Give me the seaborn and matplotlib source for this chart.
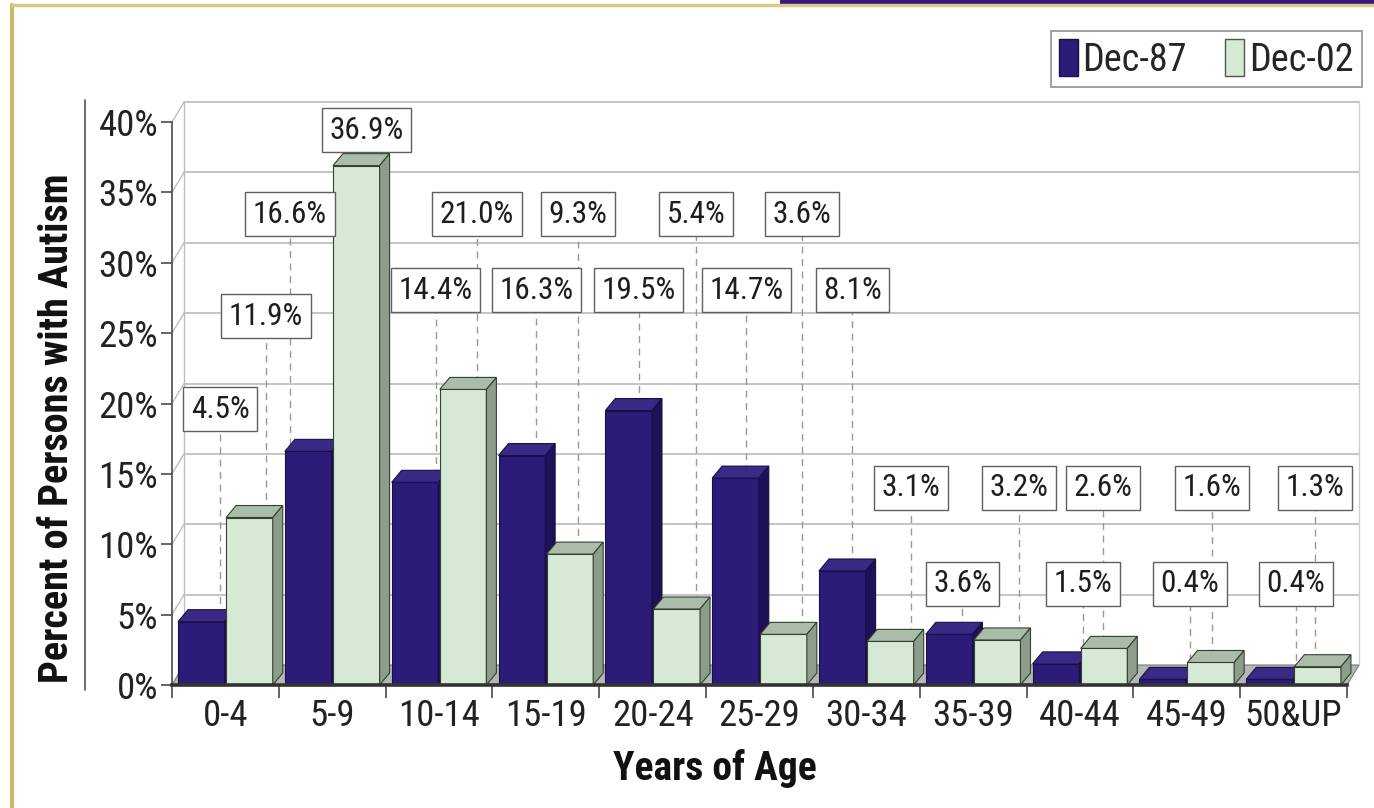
import numpy as np
import pandas as pd
import matplotlib
matplotlib.use("Agg")
import matplotlib.pyplot as plt
import seaborn as sns
from matplotlib import font_manager as fm
from matplotlib.patches import Polygon, Patch, Rectangle
from matplotlib.lines import Line2D

# ---------------- data ----------------
age_groups = ["0-4", "5-9", "10-14", "15-19", "20-24", "25-29",
              "30-34", "35-39", "40-44", "45-49", "50&UP"]
dec87 = [4.5, 16.6, 14.4, 16.3, 19.5, 14.7, 8.1, 3.6, 1.5, 0.4, 0.4]
dec02 = [11.9, 36.9, 21.0, 9.3, 5.4, 3.6, 3.1, 3.2, 2.6, 1.6, 1.3]
series_names = ["Dec-87", "Dec-02"]
y_ticks = [0, 5, 10, 15, 20, 25, 30, 35, 40]

# label placement (layout only)
lab87_dx = [-0.05, -0.395, -0.03, -0.09, -0.13, -0.125, -0.13, -0.10, 0.03, 0.03, 0.02]
lab02_dx = [0.38, 0.32, 0.356, 0.30, 0.406, 0.40, 0.42, 0.43, 0.217, 0.238, 0.20]
lab87_y = [19.6, 33.45, 28.05, 28.05, 28.05, 28.05, 28.05, 7.2, 7.2, 7.2, 7.2]
lab02_y = [26.2, 39.4, 33.45, 33.45, 33.45, 33.45, 14.0, 14.0, 14.0, 14.0, 14.0]

df = pd.DataFrame({
    "age": age_groups * 2,
    "value": dec87 + dec02,
    "series": [series_names[0]] * len(age_groups) + [series_names[1]] * len(age_groups),
})

# ---------------- font choice (condensed if available) ----------------
sns.set_style("white")
ttf = fm.fontManager.ttflist
names = {f.name for f in ttf}
family, stretch = None, "normal"
for c in ["Liberation Sans Narrow", "Roboto Condensed", "Open Sans Condensed",
          "Noto Sans Condensed", "DejaVu Sans Condensed"]:
    if c in names:
        family = c
        break
if family is None:
    def is_cond(f):
        s = f.stretch
        if isinstance(s, str):
            return "condensed" in s
        return s < 500
    for base in ["Noto Sans", "Open Sans", "DejaVu Sans", "Roboto", "Liberation Sans"]:
        if any(f.name == base and is_cond(f) for f in ttf):
            family, stretch = base, "condensed"
            break
if family is None:
    family = "Roboto" if "Roboto" in names else "DejaVu Sans"
plt.rcParams["font.family"] = [family, "DejaVu Sans"]
plt.rcParams["font.stretch"] = stretch

DARK = "#2D1B78"
DARK_TOP = "#3A2985"
DARK_SIDE = "#1E1157"
LIGHT = "#D6E9D5"
LIGHT_TOP = "#AABDA9"
LIGHT_SIDE = "#8C9E8B"

W, H = 1374, 808
fig = plt.figure(figsize=(W / 100, H / 100), dpi=100)
fig.patch.set_facecolor("white")
ax = fig.add_axes([172 / W, 123 / H, 1175 / W, 563 / H])
ax.patch.set_alpha(0)

sns.barplot(data=df, x="age", y="value", hue="series", order=age_groups,
            hue_order=series_names, palette=[DARK, LIGHT], width=0.9, gap=0.03,
            legend=False, ax=ax, saturation=1)
bars = sorted([p for p in ax.patches if isinstance(p, Rectangle)], key=lambda p: p.get_x())

ax.set_xlim(-0.5, 10.5)
ax.set_ylim(0, 40)

# depth offsets (data units)
bdx, bdy = 10 / 106.8, 12 / 14.075
wdx, wdy = 12 / 106.8, 20 / 14.075

# back wall grid
for yv in y_ticks:
    ax.plot([-0.5, -0.5 + wdx], [yv, yv + wdy], color="#BDBDBD", lw=1.0, zorder=1, clip_on=False)
    if yv > 0:
        ax.plot([-0.5 + wdx, 10.5 + wdx], [yv + wdy, yv + wdy], color="#C4C4C4", lw=1.4,
                zorder=1, clip_on=False)
ax.plot([-0.5 + wdx, -0.5 + wdx], [wdy, 40 + wdy], color="#BDBDBD", lw=1.0, zorder=1, clip_on=False)
ax.plot([10.5 + wdx, 10.5 + wdx], [wdy, 40 + wdy], color="#CFCFCF", lw=1.0, zorder=1, clip_on=False)
# floor
ax.add_patch(Polygon([[-0.5, 0], [10.5, 0], [10.5 + wdx, wdy], [-0.5 + wdx, wdy]],
                     closed=True, facecolor="#B4B8B4", edgecolor="#7A7A7A", lw=0.8,
                     zorder=1.2, clip_on=False))

# 3-D faces on seaborn's bars
for i, b in enumerate(bars):
    x0, w, h = b.get_x(), b.get_width(), b.get_height()
    x1 = x0 + w
    is_dark = matplotlib.colors.to_hex(b.get_facecolor()).lower() == DARK.lower()
    top_c, side_c = (DARK_TOP, DARK_SIDE) if is_dark else (LIGHT_TOP, LIGHT_SIDE)
    ec = "#1A0E4A" if is_dark else "#34402F"
    z = 3 + i * 0.1
    b.set_zorder(z)
    b.set_edgecolor(ec)
    b.set_linewidth(0.8)
    b.set_clip_on(False)
    ax.add_patch(Polygon([[x0, h], [x1, h], [x1 + bdx, h + bdy], [x0 + bdx, h + bdy]],
                         closed=True, facecolor=top_c, edgecolor=ec, lw=0.8,
                         zorder=z + 0.01, clip_on=False))
    ax.add_patch(Polygon([[x1, 0], [x1, h], [x1 + bdx, h + bdy], [x1 + bdx, bdy]],
                         closed=True, facecolor=side_c, edgecolor=ec, lw=0.8,
                         zorder=z + 0.02, clip_on=False))

# value labels with leader lines
def fmt(v):
    return f"{v:.1f}%"

for i in range(len(age_groups)):
    for vals, dxs, ys in ((dec87, lab87_dx, lab87_y), (dec02, lab02_dx, lab02_y)):
        x = i + dxs[i]
        ax.plot([x, x], [vals[i] + bdy * 0.5, ys[i] - 1.5], color="#999999", lw=1.0,
                ls=(0, (5, 4)), zorder=2, clip_on=False)
        ax.text(x, ys[i], fmt(vals[i]), ha="center", va="center", fontsize=22.5,
                color="#1E1E1E", zorder=100,
                bbox=dict(boxstyle="square,pad=0.24", facecolor="white",
                          edgecolor="#606060", lw=1.0))

# axes styling
sns.despine(ax=ax, top=True, right=True)
ax.spines["left"].set_color("#4A4A4A")
ax.spines["left"].set_linewidth(1.2)
ax.spines["bottom"].set_color("#333333")
ax.spines["bottom"].set_linewidth(2.6)
ax.spines["bottom"].set_zorder(200)
ax.set_yticks(y_ticks)
ax.set_yticklabels([f"{t}%" for t in y_ticks], fontsize=26.5, color="#222222")
ax.tick_params(axis="y", direction="out", length=8, width=1.2, color="#4A4A4A", pad=2, left=True)
ax.set_xticks(range(len(age_groups)))
ax.set_xticklabels(age_groups, fontsize=26.5, color="#222222")
ax.set_xticks(np.arange(-0.5, 11, 1), minor=True)
ax.tick_params(axis="x", which="major", length=0, pad=9)
ax.tick_params(axis="x", which="minor", direction="out", length=9, width=1.2,
               color="#4A4A4A", bottom=True)
ax.set_xlabel("")
ax.set_ylabel("")
ax.grid(False)

fig.text(57 / W, 1 - 428 / H, "Percent of Persons with Autism", rotation=90,
         ha="center", va="center", fontsize=29, fontweight="bold", color="#111111")
fig.text(715 / W, 1 - 768 / H, "Years of Age", ha="center", va="center",
         fontsize=28.5, fontweight="bold", color="#111111")

# separator line left of tick labels
fig.add_artist(Line2D([85 / W, 85 / W], [1 - 100 / H, 1 - 690 / H], color="#555555", lw=1.2))

# legend
handles = [Patch(facecolor=DARK, edgecolor="#1A0E4A", label=series_names[0]),
           Patch(facecolor=LIGHT, edgecolor="#4A5A48", label=series_names[1])]
leg = fig.legend(handles=handles, loc="upper right", bbox_to_anchor=(1362 / W, 1 - 31 / H),
                 ncol=2, fontsize=27.5, frameon=True, fancybox=False, handlelength=0.5,
                 handleheight=1.1, handletextpad=0.12, columnspacing=1.0,
                 borderpad=0.22, borderaxespad=0)
leg.get_frame().set_edgecolor("#8A8A8A")
leg.get_frame().set_linewidth(1.4)

# outer frame
fig.add_artist(Line2D([12 / W, 12 / W], [0, 1 - 5 / H], color="#C8BA66", lw=3))
fig.add_artist(Line2D([12 / W, 1], [1 - 5 / H, 1 - 5 / H], color="#D9C98A", lw=2.5))
fig.add_artist(Rectangle((780 / W, 1 - 4 / H), 1 - 780 / W, 4 / H,
                         transform=fig.transFigure, facecolor="#3A1778", edgecolor="none"))

fig.savefig("out.png", dpi=100)
